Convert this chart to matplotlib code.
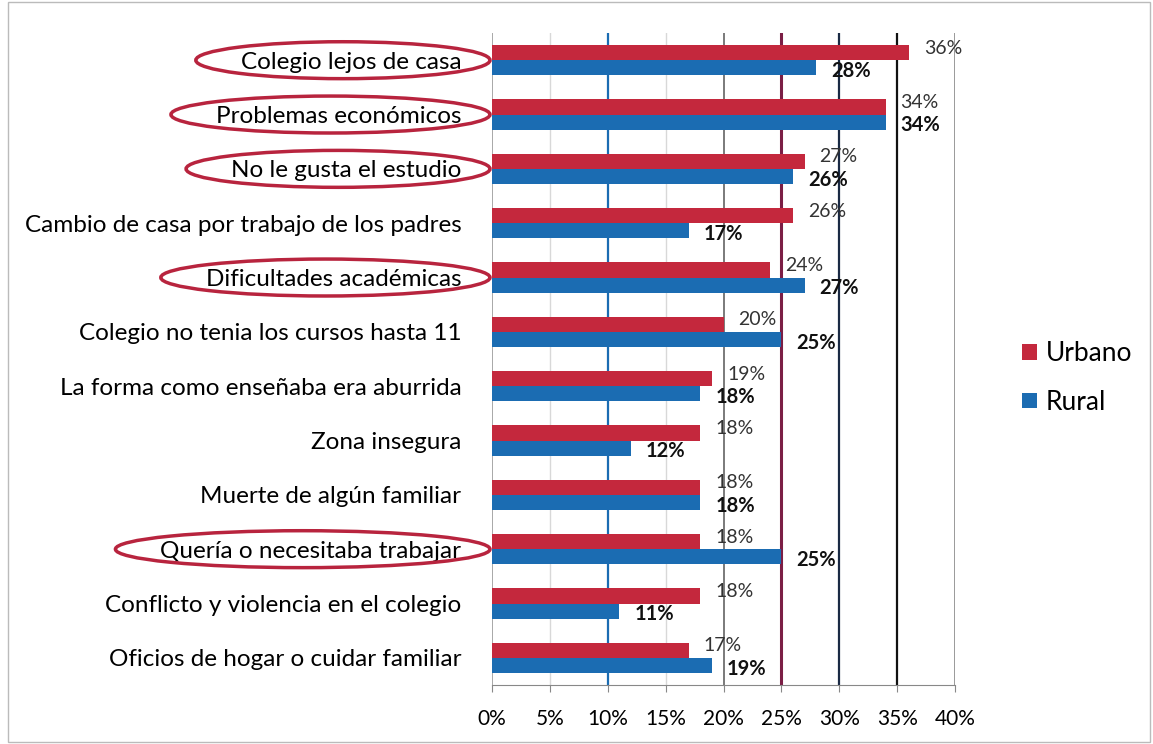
import matplotlib

matplotlib.use("Agg")
import matplotlib.pyplot as plt
import matplotlib.transforms as mtransforms
from matplotlib.patches import Ellipse, Rectangle
import numpy as np

plt.rcParams["font.family"] = ["Lato", "DejaVu Sans"]

categories = [
    "Colegio lejos de casa",
    "Problemas económicos",
    "No le gusta el estudio",
    "Cambio de casa por trabajo de los padres",
    "Dificultades académicas",
    "Colegio no tenia los cursos hasta 11",
    "La forma como enseñaba era aburrida",
    "Zona insegura",
    "Muerte de algún familiar",
    "Quería o necesitaba trabajar",
    "Conflicto y violencia en el colegio",
    "Oficios de hogar o cuidar familiar",
]
urbano = [36, 34, 27, 26, 24, 20, 19, 18, 18, 18, 18, 17]
rural = [28, 34, 26, 17, 27, 25, 18, 12, 18, 25, 11, 19]
circled = [
    "Colegio lejos de casa",
    "Problemas económicos",
    "No le gusta el estudio",
    "Dificultades académicas",
    "Quería o necesitaba trabajar",
]
x_ticks = [0, 5, 10, 15, 20, 25, 30, 35, 40]

red = "#C4283D"
blue = "#1B6CB2"
grid_colors = ["#9a9a9a", "#d8d8d8", "#1B6CB2", "#d8d8d8", "#7a7a7a",
               "#7B1E45", "#1a2a44", "#111111", "#9a9a9a"]
grid_widths = [1.2, 1.0, 1.6, 1.0, 1.4, 2.2, 1.6, 1.6, 1.4]

fig = plt.figure(figsize=(11.53, 7.44), dpi=100)
ax = fig.add_axes([0.4267, 0.0793, 0.4016, 0.8763])

y = np.arange(len(categories))
h = 0.28
ax.barh(y - h / 2, urbano, height=h, color=red, label="Urbano", zorder=3)
ax.barh(y + h / 2, rural, height=h, color=blue, label="Rural", zorder=3)

for xv, c, lw in zip(x_ticks, grid_colors, grid_widths):
    ax.axvline(xv, color=c, lw=lw, zorder=1)

for i, (u, r) in enumerate(zip(urbano, rural)):
    ax.text(u + 1.3, i - 0.22, f"{u}%", va="center", ha="left",
            fontsize=14, color="#333333", zorder=4)
    ax.text(r + 1.3, i + 0.2, f"{r}%", va="center", ha="left",
            fontsize=14.5, fontweight="bold", color="#111111", zorder=4)

ax.set_xlim(0, 40)
ax.set_ylim(len(categories) - 0.5, -0.5)
ax.set_xticks(x_ticks)
ax.set_xticklabels([f"{v}%" for v in x_ticks], fontsize=15)
ax.set_yticks(y)
ax.set_yticklabels(categories, fontsize=17.5)
ax.tick_params(axis="y", length=0, pad=22)
ax.tick_params(axis="x", length=5, color="#888888", pad=12)
for side in ["top", "right", "left"]:
    ax.spines[side].set_visible(False)
ax.spines["bottom"].set_color("#888888")

# red ellipses around highlighted reasons, sized from the label text
fig.canvas.draw()
fig_w = fig.bbox.width
trans = mtransforms.blended_transform_factory(fig.transFigure, ax.transData)
for lab in ax.get_yticklabels():
    if lab.get_text() not in circled:
        continue
    i = categories.index(lab.get_text())
    left = (lab.get_window_extent().x0 - 45) / fig_w
    right = 490 / fig_w
    ax.add_patch(Ellipse(((left + right) / 2, i), right - left, 0.68,
                         transform=trans, fill=False, edgecolor="#B8243E",
                         lw=2.5, clip_on=False, zorder=5))

leg = ax.legend(loc="center left", bbox_to_anchor=(0.866, 0.492),
                bbox_transform=fig.transFigure, frameon=False, fontsize=19,
                handlelength=0.55, handleheight=0.55, labelspacing=0.9,
                handletextpad=0.35)

fig.patches.append(Rectangle((0.007, 0.003), 0.99, 0.994, transform=fig.transFigure,
                             fill=False, edgecolor="#bbbbbb", lw=1))

fig.savefig("out.png", dpi=100)
plt.close(fig)
